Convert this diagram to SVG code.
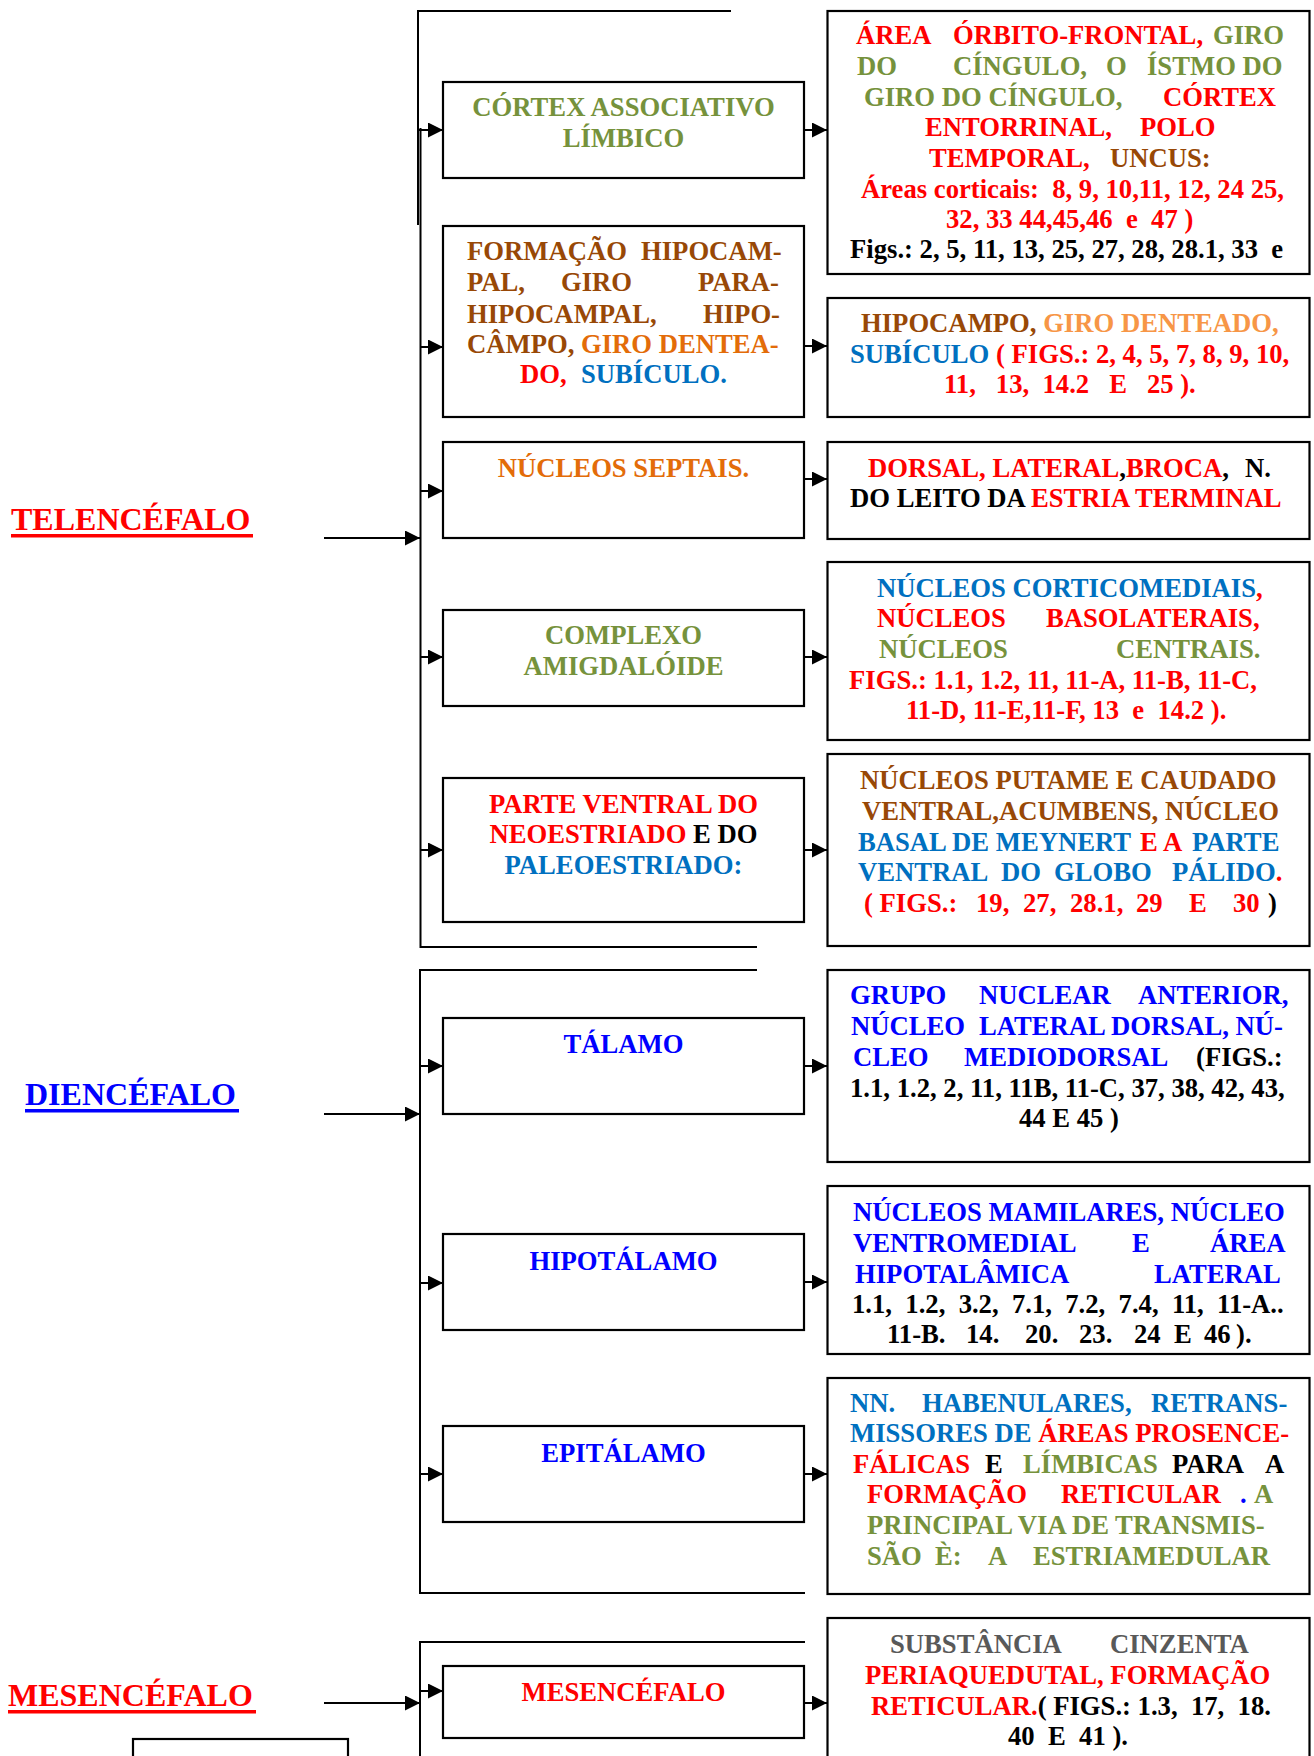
<svg xmlns="http://www.w3.org/2000/svg" width="1314" height="1756" viewBox="0 0 1314 1756">
<style>
.t{font-family:"Liberation Serif","Times New Roman",serif;font-weight:bold;font-size:26.67px}
.lbl{font-family:"Liberation Serif","Times New Roman",serif;font-weight:bold;font-size:32px}
.box{fill:#fff;stroke:#000;stroke-width:2.2}
.ln{fill:none;stroke:#000;stroke-width:2}
.r{fill:#FF0000}.g{fill:#76923C}.br{fill:#984806}.o{fill:#E36C09}.lo{fill:#F79646}.b{fill:#0070C0}.bb{fill:#0000FF}.k{fill:#000}.gy{fill:#595959}
</style>
<defs>
<marker id="ah" markerUnits="userSpaceOnUse" markerWidth="16" markerHeight="16" refX="15" refY="7.5" orient="auto"><path d="M0,0 L15,7.5 L0,15 z" fill="#000"/></marker>
</defs>
<rect width="1314" height="1756" fill="#fff"/>
<g id="connectors">
<path class="ln" d="M731,11 H418 V225"/>
<path class="ln" d="M420.5,128 V947 H757"/>
<path class="ln" d="M757,970 H420 V1593 H805"/>
<path class="ln" d="M805,1642 H420 V1756"/>
<line class="ln" x1="324" y1="538" x2="420" y2="538" marker-end="url(#ah)"/>
<line class="ln" x1="324" y1="1114" x2="420" y2="1114" marker-end="url(#ah)"/>
<line class="ln" x1="324" y1="1703" x2="420" y2="1703" marker-end="url(#ah)"/>
<line class="ln" x1="418" y1="130" x2="443" y2="130" marker-end="url(#ah)"/>
<line class="ln" x1="804" y1="130" x2="827" y2="130" marker-end="url(#ah)"/>
<line class="ln" x1="420" y1="347" x2="443" y2="347" marker-end="url(#ah)"/>
<line class="ln" x1="804" y1="346" x2="827" y2="346" marker-end="url(#ah)"/>
<line class="ln" x1="420" y1="491" x2="443" y2="491" marker-end="url(#ah)"/>
<line class="ln" x1="804" y1="479" x2="827" y2="479" marker-end="url(#ah)"/>
<line class="ln" x1="420" y1="657" x2="443" y2="657" marker-end="url(#ah)"/>
<line class="ln" x1="804" y1="657" x2="827" y2="657" marker-end="url(#ah)"/>
<line class="ln" x1="420" y1="850" x2="443" y2="850" marker-end="url(#ah)"/>
<line class="ln" x1="804" y1="850" x2="827" y2="850" marker-end="url(#ah)"/>
<line class="ln" x1="420" y1="1066" x2="443" y2="1066" marker-end="url(#ah)"/>
<line class="ln" x1="804" y1="1066" x2="827" y2="1066" marker-end="url(#ah)"/>
<line class="ln" x1="420" y1="1283" x2="443" y2="1283" marker-end="url(#ah)"/>
<line class="ln" x1="804" y1="1282" x2="827" y2="1282" marker-end="url(#ah)"/>
<line class="ln" x1="420" y1="1474" x2="443" y2="1474" marker-end="url(#ah)"/>
<line class="ln" x1="804" y1="1474" x2="827" y2="1474" marker-end="url(#ah)"/>
<line class="ln" x1="420" y1="1691" x2="443" y2="1691" marker-end="url(#ah)"/>
<line class="ln" x1="804" y1="1703" x2="827" y2="1703" marker-end="url(#ah)"/>
</g>
<g id="lbl-telencefalo"><text class="lbl r" x="11" y="530">TELENCÉFALO</text><rect x="11" y="534" width="242" height="3.5" fill="#FF0000"/></g>
<g id="lbl-diencefalo"><text class="lbl bb" x="25" y="1105">DIENCÉFALO</text><rect x="25" y="1109" width="214" height="3.5" fill="#0000FF"/></g>
<g id="lbl-mesencefalo"><text class="lbl r" x="8" y="1706">MESENCÉFALO</text><rect x="8" y="1710" width="248" height="3.5" fill="#FF0000"/></g>

<g id="n-cortex-assoc"><rect class="box" x="443" y="82" width="361" height="96"/>
<text class="t g" x="623.5" y="116" text-anchor="middle">CÓRTEX ASSOCIATIVO</text>
<text class="t g" x="623.5" y="147" text-anchor="middle">LÍMBICO</text></g>

<g id="n-area-orbito"><rect class="box" x="827.5" y="11" width="482" height="263"/>
<text class="t"><tspan class="r" x="856" y="44.3">ÁREA</tspan><tspan class="r" x="953" y="44.3">ÓRBITO-FRONTAL,</tspan><tspan class="g" x="1213" y="44.3">GIRO</tspan></text>
<text class="t g"><tspan x="857" y="75">DO</tspan><tspan x="953" y="75">CÍNGULO,</tspan><tspan x="1106" y="75">O</tspan><tspan x="1147" y="75">ÍSTMO DO</tspan></text>
<text class="t"><tspan class="g" x="864" y="105.7">GIRO DO CÍNGULO,</tspan><tspan class="r" x="1163" y="105.7">CÓRTEX</tspan></text>
<text class="t r"><tspan x="925" y="136">ENTORRINAL,</tspan><tspan x="1140" y="136">POLO</tspan></text>
<text class="t"><tspan class="r" x="929" y="166.7">TEMPORAL,</tspan><tspan class="br" x="1110" y="166.7">UNCUS:</tspan></text>
<text class="t r" x="861" y="197.7">Áreas corticais: &#160;8, 9, 10,11, 12, 24 25,</text>
<text class="t r" x="946" y="228.3">32, 33 44,45,46 &#160;e &#160;47 )</text>
<text class="t k" x="850" y="258.3">Figs.: 2, 5, 11, 13, 25, 27, 28, 28.1, 33 &#160;e</text></g>

<g id="n-formacao-hipo"><rect class="box" x="443" y="226" width="361" height="191"/>
<text class="t br"><tspan x="467" y="260">FORMAÇÃO</tspan><tspan x="641" y="260">HIPOCAM-</tspan></text>
<text class="t br"><tspan x="467" y="291.3">PAL,</tspan><tspan x="561" y="291.3">GIRO</tspan><tspan x="698" y="291.3">PARA-</tspan></text>
<text class="t br"><tspan x="467" y="322.7">HIPOCAMPAL,</tspan><tspan x="703" y="322.7">HIPO-</tspan></text>
<text class="t" x="467" y="352.7"><tspan class="br">CÂMPO, </tspan><tspan class="o">GIRO DENTEA-</tspan></text>
<text class="t"><tspan class="r" x="520" y="383.3">DO,</tspan><tspan class="b" x="581" y="383.3">SUBÍCULO.</tspan></text></g>

<g id="n-hipocampo"><rect class="box" x="827.5" y="298" width="482" height="119"/>
<text class="t" x="861" y="331.7"><tspan class="br">HIPOCAMPO, </tspan><tspan class="lo">GIRO DENTEADO,</tspan></text>
<text class="t"><tspan class="b" x="850" y="362.7">SUBÍCULO</tspan><tspan class="r" x="996" y="362.7">( FIGS.: 2, 4, 5, 7, 8, 9, 10,</tspan></text>
<text class="t r" x="944" y="393.3">11, &#160; 13, &#160;14.2 &#160; E &#160; 25 ).</text></g>

<g id="n-septais"><rect class="box" x="443" y="442" width="361" height="96"/>
<text class="t o" x="623.5" y="476.7" text-anchor="middle">NÚCLEOS SEPTAIS.</text></g>

<g id="n-dorsal"><rect class="box" x="827.5" y="442" width="482" height="97"/>
<text class="t"><tspan class="r" x="868" y="476.7">DORSAL, LATERAL</tspan><tspan class="k">,</tspan><tspan class="r">BROCA</tspan><tspan class="k">,</tspan><tspan class="k" x="1245" y="476.7">N.</tspan></text>
<text class="t" x="850" y="506.7"><tspan class="k">DO LEITO DA </tspan><tspan class="r">ESTRIA TERMINAL</tspan></text></g>

<g id="n-amigdaloide"><rect class="box" x="443" y="610" width="361" height="96"/>
<text class="t g" x="623.5" y="644.3" text-anchor="middle">COMPLEXO</text>
<text class="t g" x="623.5" y="675" text-anchor="middle">AMIGDALÓIDE</text></g>

<g id="n-corticomediais"><rect class="box" x="827.5" y="562" width="482" height="178"/>
<text class="t" x="877" y="596.7"><tspan class="b">NÚCLEOS CORTICOMEDIAIS</tspan><tspan class="r">,</tspan></text>
<text class="t r"><tspan x="877" y="627.3">NÚCLEOS</tspan><tspan x="1046" y="627.3">BASOLATERAIS,</tspan></text>
<text class="t g"><tspan x="879" y="658.3">NÚCLEOS</tspan><tspan x="1116" y="658.3">CENTRAIS.</tspan></text>
<text class="t r" x="849" y="688.7">FIGS.: 1.1, 1.2, 11, 11-A, 11-B, 11-C,</text>
<text class="t r" x="906" y="719.3">11-D, 11-E,11-F, 13 &#160;e &#160;14.2 ).</text></g>

<g id="n-parte-ventral"><rect class="box" x="443" y="778" width="361" height="144"/>
<text class="t r" x="623.5" y="812.7" text-anchor="middle">PARTE VENTRAL DO</text>
<text class="t" x="623.5" y="843.3" text-anchor="middle"><tspan class="r">NEOESTRIADO</tspan><tspan class="k"> E DO</tspan></text>
<text class="t b" x="623.5" y="874" text-anchor="middle">PALEOESTRIADO:</text></g>

<g id="n-putame"><rect class="box" x="827.5" y="754" width="482" height="192"/>
<text class="t br" x="860" y="789.3">NÚCLEOS PUTAME E CAUDADO</text>
<text class="t br" x="862" y="820">VENTRAL,ACUMBENS, NÚCLEO</text>
<text class="t"><tspan class="b" x="858" y="850.7">BASAL DE MEYNERT</tspan><tspan class="r" x="1140" y="850.7">E A</tspan><tspan class="b" x="1192" y="850.7">PARTE</tspan></text>
<text class="t b"><tspan x="858" y="881">VENTRAL</tspan><tspan x="1001" y="881">DO</tspan><tspan x="1054" y="881">GLOBO</tspan><tspan x="1172" y="881">PÁLIDO</tspan><tspan class="r">.</tspan></text>
<text class="t r"><tspan x="864" y="911.7">( FIGS.:</tspan><tspan x="976" y="911.7">19,</tspan><tspan x="1023" y="911.7">27,</tspan><tspan x="1070" y="911.7">28.1,</tspan><tspan x="1136" y="911.7">29</tspan><tspan x="1189" y="911.7">E</tspan><tspan x="1233" y="911.7">30</tspan><tspan class="k" x="1268" y="911.7">)</tspan></text></g>

<g id="n-talamo"><rect class="box" x="443" y="1018" width="361" height="96"/>
<text class="t bb" x="623.5" y="1053.3" text-anchor="middle">TÁLAMO</text></g>

<g id="n-grupo-nuclear"><rect class="box" x="827.5" y="970" width="482" height="192"/>
<text class="t bb"><tspan x="850" y="1004.3">GRUPO</tspan><tspan x="979" y="1004.3">NUCLEAR</tspan><tspan x="1138" y="1004.3">ANTERIOR,</tspan></text>
<text class="t bb"><tspan x="851" y="1035">NÚCLEO</tspan><tspan x="979" y="1035">LATERAL DORSAL, NÚ-</tspan></text>
<text class="t"><tspan class="bb" x="853" y="1066">CLEO</tspan><tspan class="bb" x="964" y="1066">MEDIODORSAL</tspan><tspan class="k" x="1196" y="1066">(FIGS.:</tspan></text>
<text class="t k" x="850" y="1096.7">1.1, 1.2, 2, 11, 11B, 11-C, 37, 38, 42, 43,</text>
<text class="t k" x="1019" y="1127.3">44 E 45 )</text></g>

<g id="n-hipotalamo"><rect class="box" x="443" y="1234" width="361" height="96"/>
<text class="t bb" x="623.5" y="1270" text-anchor="middle">HIPOTÁLAMO</text></g>

<g id="n-mamilares"><rect class="box" x="827.5" y="1186" width="482" height="168"/>
<text class="t bb" x="853" y="1220.7">NÚCLEOS MAMILARES, NÚCLEO</text>
<text class="t bb"><tspan x="853" y="1251.7">VENTROMEDIAL</tspan><tspan x="1132" y="1251.7">E</tspan><tspan x="1210" y="1251.7">ÁREA</tspan></text>
<text class="t bb"><tspan x="855" y="1282.7">HIPOTALÂMICA</tspan><tspan x="1154" y="1282.7">LATERAL</tspan></text>
<text class="t k" x="852" y="1312.7">1.1, &#160;1.2, &#160;3.2, &#160;7.1, &#160;7.2, &#160;7.4, &#160;11, &#160;11-A..</text>
<text class="t k"><tspan x="887" y="1342.7">11-B.</tspan><tspan x="966" y="1342.7">14.</tspan><tspan x="1025" y="1342.7">20.</tspan><tspan x="1079" y="1342.7">23.</tspan><tspan x="1134" y="1342.7">24</tspan><tspan x="1174" y="1342.7">E</tspan><tspan x="1204" y="1342.7">46</tspan><tspan x="1236" y="1342.7">).</tspan></text></g>

<g id="n-epitalamo"><rect class="box" x="443" y="1426" width="361" height="96"/>
<text class="t bb" x="623.5" y="1461.7" text-anchor="middle">EPITÁLAMO</text></g>

<g id="n-habenulares"><rect class="box" x="827.5" y="1378" width="482" height="216"/>
<text class="t b"><tspan x="850" y="1411.7">NN.</tspan><tspan x="922" y="1411.7">HABENULARES,</tspan><tspan x="1151" y="1411.7">RETRANS-</tspan></text>
<text class="t" x="850" y="1441.7"><tspan class="b">MISSORES DE </tspan><tspan class="r">ÁREAS PROSENCE-</tspan></text>
<text class="t"><tspan class="r" x="853" y="1473.3">FÁLICAS</tspan><tspan class="k" x="985" y="1473.3">E</tspan><tspan class="g" x="1023" y="1473.3">LÍMBICAS</tspan><tspan class="k" x="1172" y="1473.3">PARA</tspan><tspan class="k" x="1265" y="1473.3">A</tspan></text>
<text class="t"><tspan class="r" x="867" y="1503.3">FORMAÇÃO</tspan><tspan class="r" x="1061" y="1503.3">RETICULAR</tspan><tspan class="bb" x="1240" y="1503.3">.</tspan><tspan class="g" x="1254" y="1503.3">A</tspan></text>
<text class="t g" x="867" y="1534">PRINCIPAL VIA DE TRANSMIS-</text>
<text class="t g"><tspan x="867" y="1565">SÃO</tspan><tspan x="935" y="1565">È:</tspan><tspan x="988" y="1565">A</tspan><tspan x="1033" y="1565">ESTRIAMEDULAR</tspan></text></g>

<g id="n-mesencefalo"><rect class="box" x="443" y="1666" width="361" height="72"/>
<text class="t r" x="623.5" y="1701" text-anchor="middle">MESENCÉFALO</text></g>

<g id="n-substancia"><rect class="box" x="827.5" y="1618" width="482" height="150"/>
<text class="t gy"><tspan x="890" y="1653.3">SUBSTÂNCIA</tspan><tspan x="1110" y="1653.3">CINZENTA</tspan></text>
<text class="t r" x="865" y="1684">PERIAQUEDUTAL, FORMAÇÃO</text>
<text class="t" x="871" y="1714.7"><tspan class="r">RETICULAR.</tspan><tspan class="k">( FIGS.: 1.3, &#160;17, &#160;18.</tspan></text>
<text class="t k" x="1008" y="1745">40 &#160;E &#160;41 ).</text></g>

<g id="n-bottom-left"><rect class="box" x="133" y="1739" width="215" height="30"/></g>
</svg>
